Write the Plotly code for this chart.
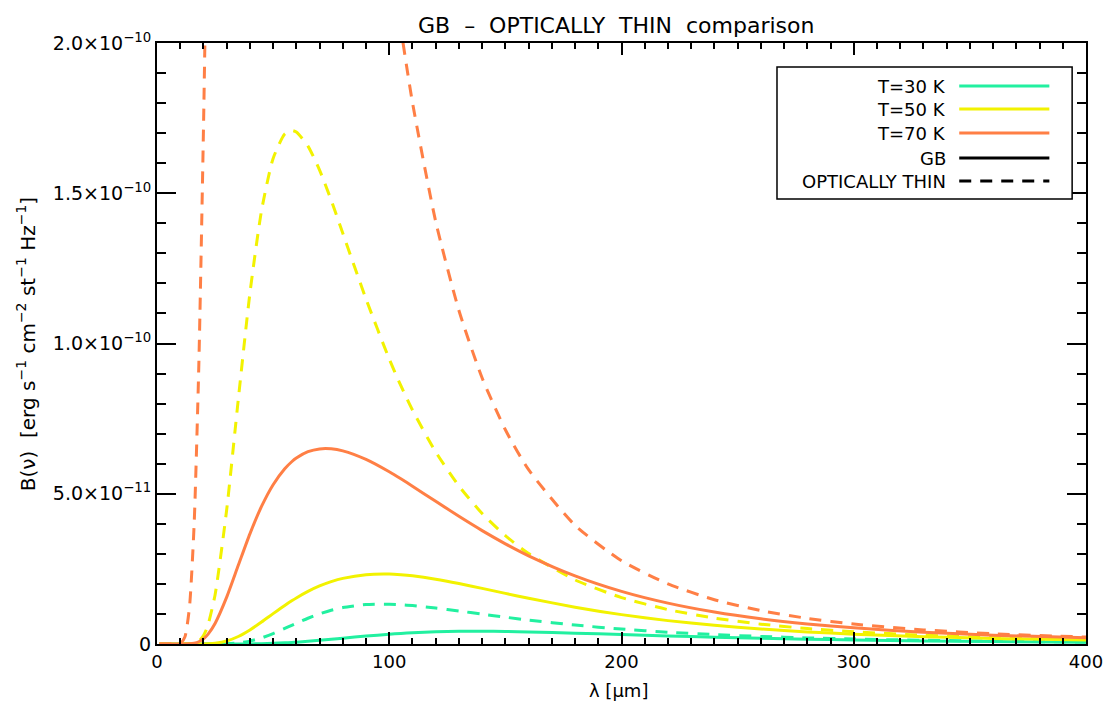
import plotly.graph_objects as go

# wavelength grid [micron]
lam = [1, 5, 10, 12, 14, 16, 18, 20, 21, 22,
       25, 30, 35, 40, 45, 50, 55, 58, 60, 65,
       70, 75, 80, 90, 100, 105, 110, 120, 130, 140,
       150, 160, 180, 200, 220, 240, 260, 280, 300, 330,
       360, 400]

# B(nu) values in units of 1e-11 erg s^-1 cm^-2 st^-1 Hz^-1
gb_30 = [0, 0, 0, 0, 0, 0, 0, 0, 0, 0,
         0.00001, 0.0002, 0.0010, 0.0039, 0.0103, 0.0217, 0.0390, 0.0522, 0.0622, 0.0905,
         0.1228, 0.1575, 0.1935, 0.2638, 0.3252, 0.3507, 0.3724, 0.4039, 0.4204, 0.4238,
         0.4172, 0.4030, 0.3618, 0.3141, 0.2676, 0.2258, 0.1897, 0.1592, 0.1339, 0.1038,
         0.0811, 0.0593]
thin_30 = [0, 0, 0, 0, 0, 0, 0, 0, 0, 0,
           0.0008, 0.0075, 0.0339, 0.0964, 0.2026, 0.3474, 0.516, 0.6212, 0.691, 0.8565,
           1.0024, 1.121, 1.212, 1.312, 1.325, 1.3072, 1.278, 1.1964, 1.098, 0.994,
           0.8925, 0.7967, 0.630, 0.4969, 0.3933, 0.3132, 0.2513, 0.2033, 0.1658, 0.1240,
           0.0943, 0.0670]
gb_50 = [0, 0, 0, 0, 0.00002, 0.00015, 0.00078, 0.0028, 0.0048, 0.0078,
         0.0255, 0.1005, 0.2493, 0.4669, 0.7299, 1.0103, 1.2836, 1.4371, 1.5335, 1.7505,
         1.931, 2.075, 2.184, 2.307, 2.327, 2.306, 2.269, 2.157, 2.013, 1.851,
         1.685, 1.522, 1.225, 0.977, 0.778, 0.621, 0.499, 0.403, 0.328, 0.244,
         0.185, 0.1305]
thin_50 = [0, 0, 0, 0.0002, 0.0035, 0.0235, 0.096, 0.280, 0.436, 0.644,
           1.633, 4.467, 8.14, 11.67, 14.42, 16.16, 16.97, 17.09, 17.04, 16.57,
           15.77, 14.77, 13.67, 11.48, 9.482, 8.596, 7.787, 6.390, 5.257, 4.342,
           3.605, 3.009, 2.133, 1.545, 1.143, 0.862, 0.661, 0.515, 0.407, 0.292,
           0.215, 0.147]
gb_70 = [0, 0, 0.00005, 0.0008, 0.0061, 0.0256, 0.0749, 0.171, 0.241, 0.327,
         0.684, 1.560, 2.618, 3.666, 4.577, 5.301, 5.832, 6.065, 6.188, 6.399,
         6.493, 6.496, 6.428, 6.143, 5.731, 5.497, 5.252, 4.748, 4.248, 3.773,
         3.334, 2.936, 2.267, 1.750, 1.359, 1.063, 0.839, 0.668, 0.537, 0.394,
         0.294, 0.205]
thin_70 = [0, 0, 0.019, 0.233, 1.245, 4.00, 9.25, 17.10, 21.85, 27.0,
           43.8, 69.3, 85.5, 91.6, 90.4, 84.8, 77.1, 72.1, 68.8, 60.6,
           53.0, 46.2, 40.25, 30.55, 23.35, 20.49, 18.02, 14.06, 11.10, 8.85,
           7.13, 5.80, 3.95, 2.77, 2.00, 1.474, 1.111, 0.853, 0.665, 0.470,
           0.342, 0.231]

temps = ["T=30 K", "T=50 K", "T=70 K"]
colors = ["#22F0A0", "#F2F200", "#FF7F45"]
x_ticks = [0, 100, 200, 300, 400]
y_ticks = [0, 5, 10, 15, 20]
y_ticktext = ["0", "5.0×10<sup>−11</sup>", "1.0×10<sup>−10</sup>",
              "1.5×10<sup>−10</sup>", "2.0×10<sup>−10</sup>"]

FONT = "DejaVu Sans"
W, H = 1115, 707
PL, PR, PT, PB = 157, 1095, 43, 644
DASH = "12px,9px"


def px(xp):
    return (xp - PL) / (PR - PL)


def py(yp):
    return (PB - yp) / (PB - PT)


fig = go.Figure()
series = [(gb_30, thin_30), (gb_50, thin_50), (gb_70, thin_70)]
for (gb, thin), col, name in zip(series, colors, temps):
    fig.add_trace(go.Scatter(x=lam, y=gb, mode="lines", name=name + " GB",
                             line=dict(color=col, width=3, shape="spline", smoothing=0.6),
                             showlegend=False))
    fig.add_trace(go.Scatter(x=lam, y=thin, mode="lines", name=name + " thin",
                             line=dict(color=col, width=3, dash=DASH, shape="spline", smoothing=0.6),
                             showlegend=False))

axis_common = dict(showline=True, linecolor="black", linewidth=2, mirror="allticks",
                   ticks="inside", tickcolor="black", tickwidth=1.5,
                   showgrid=False, zeroline=False)

fig.update_xaxes(range=[0, 400], tickvals=x_ticks, ticklen=12,
                 tickfont=dict(family=FONT, size=18, color="black"),
                 minor=dict(dtick=10, ticks="inside", ticklen=6, tickcolor="black", tickwidth=1.5, showgrid=False),
                 **axis_common)
fig.update_yaxes(range=[0, 20], tickvals=y_ticks, ticktext=y_ticktext, ticklen=19,
                 tickfont=dict(family=FONT, size=19, color="black"),
                 minor=dict(dtick=1, ticks="inside", ticklen=9, tickcolor="black", tickwidth=1.5, showgrid=False),
                 **axis_common)

annotations = [
    dict(text="GB  –  OPTICALLY  THIN  comparison", x=px(620), y=py(25),
         xref="paper", yref="paper", showarrow=False, xanchor="center", yanchor="middle",
         font=dict(family=FONT, size=22, color="black")),
    dict(text="λ [μm]", x=px(623), y=py(690), xref="paper", yref="paper", showarrow=False,
         xanchor="center", yanchor="middle", font=dict(family=FONT, size=18, color="black")),
    dict(text="B(ν)  [erg s<sup>−1</sup> cm<sup>−2</sup> st<sup>−1</sup> Hz<sup>−1</sup>]",
         x=px(25), y=py(344), xref="paper", yref="paper", showarrow=False, textangle=-90,
         xanchor="center", yanchor="middle", font=dict(family=FONT, size=20, color="black")),
]

shapes = [dict(type="rect", xref="paper", yref="paper", x0=px(783), x1=px(1081),
               y0=py(199), y1=py(67), line=dict(color="black", width=1.5),
               fillcolor="white", layer="above")]

legend_rows = [(temps[0], colors[0], "solid"), (temps[1], colors[1], "solid"),
               (temps[2], colors[2], "solid"), ("GB", "black", "solid"),
               ("OPTICALLY THIN", "black", DASH)]
row_y = [86, 109, 133, 158, 181]
for (label, col, dash), yy in zip(legend_rows, row_y):
    annotations.append(dict(text=label, x=px(956), y=py(yy), xref="paper", yref="paper",
                            showarrow=False, xanchor="right", yanchor="middle",
                            font=dict(family=FONT, size=18, color="black")))
    shapes.append(dict(type="line", xref="paper", yref="paper", x0=px(967), x1=px(1058),
                       y0=py(yy), y1=py(yy), line=dict(color=col, width=3, dash=dash),
                       layer="above"))

fig.update_layout(width=W, height=H, margin=dict(l=PL, r=W - PR, t=PT, b=H - PB),
                  paper_bgcolor="white", plot_bgcolor="white",
                  annotations=annotations, shapes=shapes, showlegend=False)

fig.write_html("out.html")
